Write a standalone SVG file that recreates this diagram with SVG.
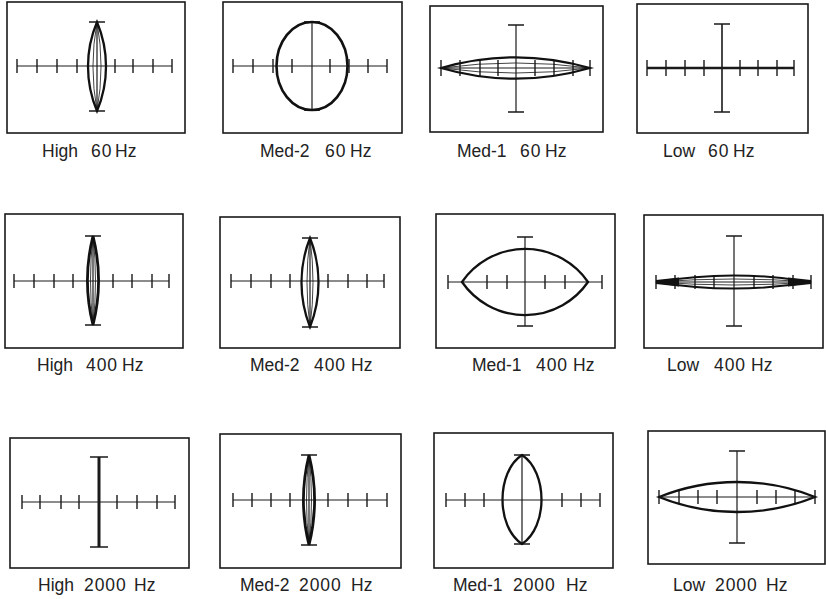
<svg xmlns="http://www.w3.org/2000/svg" width="826" height="599" viewBox="0 0 826 599">
<style>
.box{fill:#fff;stroke:#1a1a1a;stroke-width:1.6}
.ax{stroke:#1a1a1a;stroke-width:1.2;fill:none}
.tk{stroke:#1a1a1a;stroke-width:1.4;fill:none}
.cap{stroke:#1a1a1a;stroke-width:1.6;fill:none}
.fig{stroke:#111;stroke-width:2.3;fill:none}
.thin{stroke:#111;stroke-width:0.8;fill:none}
.lbl{font-family:"Liberation Sans",Arial,sans-serif;font-size:17.5px;fill:#222}
.n{letter-spacing:0.9px}
</style>
<rect width="826" height="599" fill="#fff"/>

<g id="p1">
<rect class="box" x="7" y="2" width="178" height="131"/>
<line class="ax" x1="17" y1="66" x2="172" y2="66"/>
<path class="tk" d="M17,59V73M37,59V73M57,59V73M77,59V73M115,59V73M133,59V73M153,59V73M172,59V73"/>
<line class="ax" x1="97" y1="22" x2="97" y2="111"/>
<path class="cap" d="M89,22H105M89,111H105"/>
<path class="fig" d="M97,22A114.5,114.5 0 0 1 97,111A114.5,114.5 0 0 1 97,22Z"/>
<path class="thin" d="M97,22A249.5,249.5 0 0 1 97,111A249.5,249.5 0 0 1 97,22Z"/>
<text class="lbl" y="157"><tspan x="42">High</tspan><tspan class="n" x="91">60</tspan><tspan x="115">Hz</tspan></text>
</g>

<g id="p2">
<rect class="box" x="223" y="2" width="179" height="131"/>
<line class="ax" x1="233" y1="66" x2="387" y2="66"/>
<path class="tk" d="M233,59V73M253,59V73M273,59V73M292,59V73M330,59V73M349,59V73M368,59V73M387,59V73"/>
<line class="ax" x1="312" y1="22" x2="312" y2="110"/>
<path class="cap" d="M304,22H320M304,110H320"/>
<ellipse class="fig" cx="312" cy="66" rx="35.5" ry="44" style="stroke-width:2.6"/>
<text class="lbl" y="157"><tspan x="260">Med-2</tspan><tspan class="n" x="325">60</tspan><tspan x="350">Hz</tspan></text>
</g>

<g id="p3">
<rect class="box" x="430" y="6" width="173" height="126"/>
<line class="ax" x1="441" y1="68" x2="590" y2="68"/>
<path class="tk" d="M441,60V76M460,60V76M480,60V76M498,60V76M535,60V76M554,60V76M573,60V76M590,60V76"/>
<line class="ax" x1="516" y1="25" x2="516" y2="112"/>
<path class="cap" d="M508,25H524M508,112H524"/>
<path class="fig" d="M441,68A269.5,269.5 0 0 1 590,68A269.5,269.5 0 0 1 441,68Z"/>
<path class="thin" d="M441,68A557.5,557.5 0 0 1 590,68A557.5,557.5 0 0 1 441,68Z"/>
<text class="lbl" y="157"><tspan x="457">Med-1</tspan><tspan class="n" x="520">60</tspan><tspan x="545">Hz</tspan></text>
</g>

<g id="p4">
<rect class="box" x="637" y="4" width="171" height="129"/>
<line class="ax" x1="647" y1="68" x2="794" y2="68" style="stroke-width:2.4"/>
<path class="tk" d="M647,60V76M666,60V76M685,60V76M704,60V76M740,60V76M758,60V76M777,60V76M794,60V76"/>
<line class="ax" x1="722" y1="24" x2="722" y2="112" style="stroke-width:1.6"/>
<path class="cap" d="M714,24H730M714,112H730"/>
<text class="lbl" y="157"><tspan x="663">Low</tspan><tspan class="n" x="708">60</tspan><tspan x="733">Hz</tspan></text>
</g>

<g id="p5">
<rect class="box" x="5" y="214" width="178" height="134"/>
<line class="ax" x1="14" y1="281" x2="169" y2="281"/>
<path class="tk" d="M14,274V288M34,274V288M54,274V288M73,274V288M113,274V288M132,274V288M152,274V288M169,274V288"/>
<line class="ax" x1="93" y1="236" x2="93" y2="325"/>
<path class="cap" d="M85,236H101M85,325H101"/>
<path class="fig" style="stroke-width:2.8" d="M93,236A182.75,182.75 0 0 1 93,325A182.75,182.75 0 0 1 93,236Z"/>
<path class="thin" d="M93,236A397,397 0 0 1 93,325A397,397 0 0 1 93,236Z"/>
<text class="lbl" y="371"><tspan x="37">High</tspan><tspan class="n" x="86">400</tspan><tspan x="122">Hz</tspan></text>
</g>

<g id="p6">
<rect class="box" x="220" y="217" width="180" height="131"/>
<line class="ax" x1="231" y1="281" x2="384" y2="281"/>
<path class="tk" d="M231,274V288M251,274V288M271,274V288M290,274V288M328,274V288M348,274V288M367,274V288M384,274V288"/>
<line class="ax" x1="310" y1="238" x2="310" y2="327"/>
<path class="cap" d="M302,238H318M302,327H318"/>
<path class="fig" d="M310,238A120.7,120.7 0 0 1 310,327A120.7,120.7 0 0 1 310,238Z"/>
<path class="thin" d="M310,238A331.5,331.5 0 0 1 310,327A331.5,331.5 0 0 1 310,238Z"/>
<text class="lbl" y="371"><tspan x="250">Med-2</tspan><tspan class="n" x="314">400</tspan><tspan x="351">Hz</tspan></text>
</g>

<g id="p7">
<rect class="box" x="436" y="214" width="179" height="134"/>
<line class="ax" x1="448" y1="282" x2="602" y2="282"/>
<path class="tk" d="M448,275V289M487,275V289M507,275V289M545,275V289M565,275V289M602,275V289"/>
<line class="ax" x1="525" y1="237" x2="525" y2="326"/>
<path class="cap" d="M517,237H533M517,326H533"/>
<path class="fig" d="M462,282A76.6,76.6 0 0 1 588,282A76.6,76.6 0 0 1 462,282Z"/>
<text class="lbl" y="371"><tspan x="472">Med-1</tspan><tspan class="n" x="536">400</tspan><tspan x="573">Hz</tspan></text>
</g>

<g id="p8">
<rect class="box" x="644" y="215" width="179" height="133"/>
<line class="ax" x1="656" y1="282" x2="811" y2="282"/>
<path class="tk" d="M656,275V289M675,275V289M695,275V289M714,275V289M754,275V289M773,275V289M793,275V289M811,275V289"/>
<line class="ax" x1="734" y1="236" x2="734" y2="326"/>
<path class="cap" d="M726,236H742M726,326H742"/>
<path class="fig" style="stroke-width:2" d="M656,282A465,465 0 0 1 811,282A465,465 0 0 1 656,282Z"/>
<path class="thin" d="M656,282A1002.5,1002.5 0 0 1 811,282A1002.5,1002.5 0 0 1 656,282Z"/>
<path fill="#111" d="M656,280L679,277.5V286.5L656,284ZM811,280L788,277.5V286.5L811,284Z"/>
<text class="lbl" y="371"><tspan x="667">Low</tspan><tspan class="n" x="714">400</tspan><tspan x="751">Hz</tspan></text>
</g>

<g id="p9">
<rect class="box" x="10" y="438" width="179" height="130"/>
<line class="ax" x1="22" y1="502" x2="175" y2="502"/>
<path class="tk" d="M22,495V509M40,495V509M61,495V509M79,495V509M117,495V509M137,495V509M157,495V509M175,495V509"/>
<line class="ax" x1="99" y1="457" x2="99" y2="547" style="stroke-width:3"/>
<path class="cap" d="M90,457H108M90,547H108"/>
<text class="lbl" y="591"><tspan x="38">High</tspan><tspan class="n" x="84">2000</tspan><tspan x="134">Hz</tspan></text>
</g>

<g id="p10">
<rect class="box" x="220" y="434" width="181" height="134"/>
<line class="ax" x1="233" y1="500" x2="387" y2="500"/>
<path class="tk" d="M233,493V507M252,493V507M271,493V507M290,493V507M328,493V507M348,493V507M367,493V507M387,493V507"/>
<line class="ax" x1="309" y1="455" x2="309" y2="545"/>
<path class="cap" d="M301,455H317M301,545H317"/>
<path class="fig" style="stroke-width:2.8" d="M309,455A186.8,186.8 0 0 1 309,545A186.8,186.8 0 0 1 309,455Z"/>
<path class="thin" d="M309,455A406,406 0 0 1 309,545A406,406 0 0 1 309,455Z"/>
<text class="lbl" y="591"><tspan x="240">Med-2</tspan><tspan class="n" x="299">2000</tspan><tspan x="351">Hz</tspan></text>
</g>

<g id="p11">
<rect class="box" x="434" y="433" width="179" height="135"/>
<line class="ax" x1="446" y1="500" x2="600" y2="500"/>
<path class="tk" d="M446,493V507M465,493V507M484,493V507M562,493V507M581,493V507M600,493V507"/>
<line class="ax" x1="522" y1="455" x2="522" y2="544"/>
<path class="cap" d="M514,455H530M514,544H530"/>
<path class="fig" d="M522,455C548,472 548,527 522,544C496,527 496,472 522,455Z"/>
<text class="lbl" y="591"><tspan x="453">Med-1</tspan><tspan class="n" x="513">2000</tspan><tspan x="566">Hz</tspan></text>
</g>

<g id="p12">
<rect class="box" x="648" y="431" width="177" height="133"/>
<line class="ax" x1="659" y1="497" x2="815" y2="497"/>
<path class="tk" d="M659,490V504M679,490V504M698,490V504M717,490V504M757,490V504M776,490V504M795,490V504M815,490V504"/>
<line class="ax" x1="737" y1="451" x2="737" y2="543"/>
<path class="cap" d="M729,451H745M729,543H745"/>
<path class="fig" d="M659,497A210,210 0 0 1 815,497A210,210 0 0 1 659,497Z"/>
<text class="lbl" y="591"><tspan x="673">Low</tspan><tspan class="n" x="715">2000</tspan><tspan x="766">Hz</tspan></text>
</g>
</svg>
